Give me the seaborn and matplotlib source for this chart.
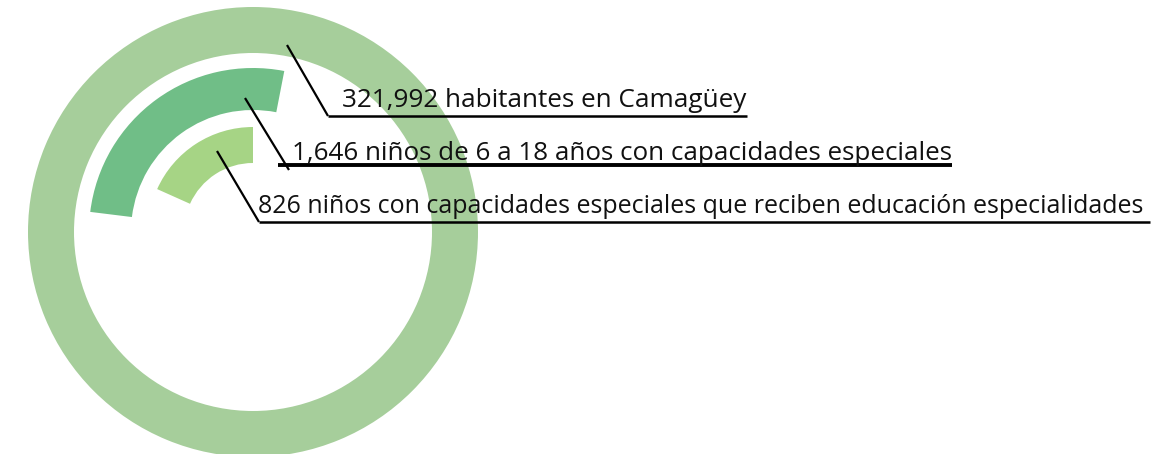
import matplotlib
matplotlib.use("Agg")
import matplotlib.pyplot as plt
import seaborn as sns

sns.set_theme(style="white")
plt.rcParams['font.family'] = ['Open Sans', 'DejaVu Sans']

# === Data ===
ring_labels = [
    "321,992 habitantes en Camagüey",
    "1,646 niños de 6 a 18 años con capacidades especiales",
    "826 niños con capacidades especiales que reciben educación especialidades",
]
ring_values = [321992, 1646, 826]
# share of the full circle that each ring shows
ring_share = [1.0, 0.261, 0.183]
ring_colors = ["#A6CE9B", "#70BE87", "#A6D485"]

# === Layout (pixel coordinates, origin bottom-left) ===
W, H = 1164, 454
cx, cy = 253, H - 232
ring_radius = [225, 164, 105]
ring_width = [46, 42, 36]
ring_start = [90, 79, 90]

fig = plt.figure(figsize=(W / 100, H / 100), dpi=100)
ax = fig.add_axes([0, 0, 1, 1])

for share, col, r, w, st in zip(ring_share, ring_colors, ring_radius, ring_width, ring_start):
    vals = [share, 1 - share] if share < 1 else [1]
    cols = [col, "none"] if share < 1 else [col]
    ax.pie(vals, colors=cols, radius=r, center=(cx, cy), startangle=st,
           counterclock=True, wedgeprops=dict(width=w, edgecolor="none", linewidth=0))

# leader lines and labels: (line start, bend, text x, text baseline, font size, underline y, underline x0, x1, lw)
label_layout = [
    ((287, 45), (328, 116), 342, 107, 18.8, 116, 328, 747, 1.8),
    ((245, 98), (289, 170), 292, 160, 18.7, 165, 278, 952, 2.8),
    ((217, 151), (259, 222), 258, 213, 18.0, 222, 259, 1150, 1.8),
]

for text, (p0, p1, tx, ty, fs, uy, ux0, ux1, ulw) in zip(ring_labels, label_layout):
    ax.plot([p0[0], p1[0]], [H - p0[1], H - p1[1]], color="black", lw=1.6,
            solid_capstyle="butt")
    ax.plot([ux0, ux1], [H - uy, H - uy], color="black", lw=ulw, solid_capstyle="butt")
    ax.text(tx, H - ty, text, fontsize=fs, color="#111111", va="baseline", ha="left")

ax.set_xlim(0, W)
ax.set_ylim(0, H)
ax.set_aspect("equal")
ax.axis("off")

fig.savefig("out.png", dpi=100)
